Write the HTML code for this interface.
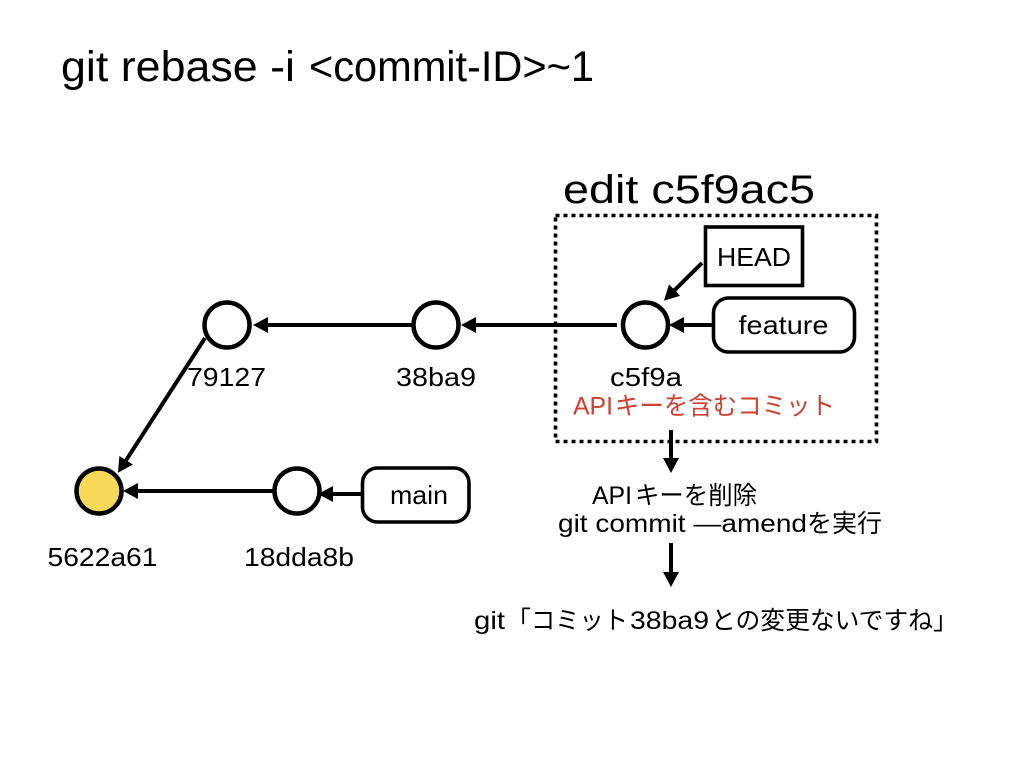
<!DOCTYPE html>
<html><head><meta charset="utf-8"><style>
html,body{margin:0;padding:0;background:#fff}
svg{display:block}
text{font-family:"Liberation Sans","Noto Sans CJK JP",sans-serif;fill:#000}
</style></head><body>
<svg width="1024" height="768" viewBox="0 0 1024 768" xmlns="http://www.w3.org/2000/svg">
<rect width="1024" height="768" fill="#fff"/>
<defs><marker id="a" markerUnits="userSpaceOnUse" markerWidth="18" markerHeight="18" refX="3" refY="8" orient="auto"><path d="M0 0L15 8L0 16Z" fill="#000"/></marker></defs>
<g font-size="43">
<text x="61" y="81" textLength="234" lengthAdjust="spacingAndGlyphs">git rebase -i</text>
<text x="309" y="81" textLength="285" lengthAdjust="spacingAndGlyphs">&lt;commit-ID&gt;~1</text>
</g>
<text x="563" y="203" font-size="40" textLength="252" lengthAdjust="spacingAndGlyphs">edit c5f9ac5</text>
<rect x="555.5" y="215.5" width="321" height="226" fill="none" stroke="#000" stroke-width="3.6" stroke-dasharray="4 4"/>
<g fill="#fff" stroke="#000" stroke-width="4.5">
<circle cx="227" cy="325" r="22.5"/>
<circle cx="436" cy="325" r="22.5"/>
<circle cx="645.5" cy="325" r="22.5"/>
<circle cx="297" cy="491" r="22.5"/>
<circle cx="99" cy="491" r="22.5" fill="#f9d759"/>
</g>
<rect x="705.5" y="227" width="97" height="58.5" fill="#fff" stroke="#000" stroke-width="3.6"/>
<rect x="713.5" y="298" width="141" height="54" rx="15" fill="#fff" stroke="#000" stroke-width="3.6"/>
<rect x="362.5" y="468" width="106.5" height="54" rx="15" fill="#fff" stroke="#000" stroke-width="3.6"/>
<g stroke="#000" stroke-width="4" fill="none">
<line x1="412" y1="325" x2="265" y2="325" marker-end="url(#a)"/>
<line x1="617" y1="325" x2="473" y2="325" marker-end="url(#a)"/>
<line x1="712" y1="325" x2="681" y2="325" marker-end="url(#a)"/>
<line x1="702" y1="263" x2="672.5" y2="292.2" marker-end="url(#a)"/>
<line x1="205" y1="338" x2="124.5" y2="462.7" marker-end="url(#a)"/>
<line x1="273" y1="491" x2="135" y2="491" marker-end="url(#a)"/>
<line x1="362" y1="494" x2="330" y2="494" marker-end="url(#a)"/>
<line x1="671" y1="430" x2="671" y2="461" marker-end="url(#a)"/>
<line x1="671" y1="543" x2="671" y2="575" marker-end="url(#a)"/>
</g>
<g font-size="26">
<text x="717" y="266" textLength="74" lengthAdjust="spacingAndGlyphs">HEAD</text>
<text x="738.5" y="334" textLength="90" lengthAdjust="spacingAndGlyphs">feature</text>
<text x="390" y="504" textLength="58" lengthAdjust="spacingAndGlyphs">main</text>
<text x="187" y="386" textLength="79" lengthAdjust="spacingAndGlyphs">79127</text>
<text x="396" y="386" textLength="80" lengthAdjust="spacingAndGlyphs">38ba9</text>
<text x="610" y="386" textLength="72" lengthAdjust="spacingAndGlyphs">c5f9a</text>
<text x="47.5" y="566" textLength="110" lengthAdjust="spacingAndGlyphs">5622a61</text>
<text x="244" y="566" textLength="110" lengthAdjust="spacingAndGlyphs">18dda8b</text>
</g>
<g font-size="25">
<text x="573" y="414.5" style="fill:#cf3f2e" textLength="40" lengthAdjust="spacingAndGlyphs">API</text>
<text x="615" y="414.5" style="fill:#cf3f2e" textLength="220" lengthAdjust="spacingAndGlyphs">キーを含むコミット</text>
<text x="592" y="504" textLength="40" lengthAdjust="spacingAndGlyphs">API</text>
<text x="635" y="504" textLength="122" lengthAdjust="spacingAndGlyphs">キーを削除</text>
<text x="558" y="532" textLength="249" lengthAdjust="spacingAndGlyphs">git commit —amend</text>
<text x="807" y="532" textLength="75" lengthAdjust="spacingAndGlyphs">を実行</text>
<text x="474" y="629" textLength="31" lengthAdjust="spacingAndGlyphs">git</text>
<text x="506" y="629">「</text>
<text x="531" y="629" textLength="97" lengthAdjust="spacingAndGlyphs">コミット</text>
<text x="630" y="629" textLength="79" lengthAdjust="spacingAndGlyphs">38ba9</text>
<text x="711" y="629" textLength="222" lengthAdjust="spacingAndGlyphs">との変更ないですね</text>
<text x="933" y="629">」</text>
</g>
</svg>
</body></html>
